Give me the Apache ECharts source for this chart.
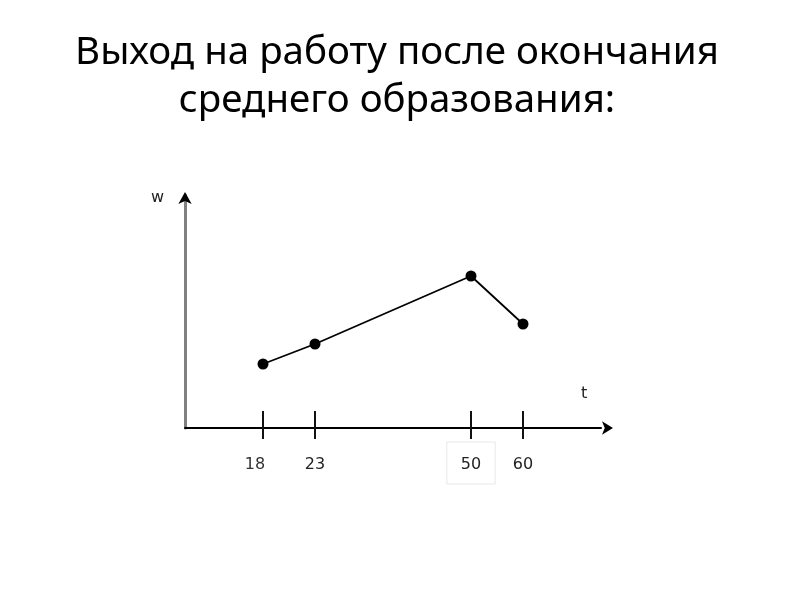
<!DOCTYPE html>
<html>
<head>
<meta charset="utf-8">
<script src="https://cdn.jsdelivr.net/npm/echarts@6/dist/echarts.min.js"></script>
<style>
  html, body { margin: 0; padding: 0; background: #ffffff; }
  #chart { width: 794px; height: 595px; }
</style>
</head>
<body>
<div id="chart"></div>
<script>
// Axis slots for t (schematic, unevenly spaced marks); empty strings are unlabeled slots
const tCategories = ['', '', '', '18', '', '23', '', '', '', '', '', '50', '', '60', '', '', ''];
// Points: t (age) and w (wage, schematic units)
const tValues = ['18', '23', '50', '60'];
const wValues = [64, 84, 152, 104];
const titleText = 'Выход на работу после окончания\nсреднего образования:';
const yAxisName = 'w';
const xAxisName = 't';

const chart = echarts.init(document.getElementById('chart'), null, { renderer: 'canvas' });

const labelFont = 'DejaVu Sans';
const showLabeled = function (index, value) { return value !== ''; };

const option = {
  backgroundColor: '#ffffff',
  animation: false,
  title: {
    text: titleText,
    left: 'center',
    top: 24,
    textStyle: {
      fontFamily: 'Noto Sans',
      fontSize: 38.5,
      fontWeight: 'normal',
      color: '#000000',
      lineHeight: 48
    }
  },
  grid: { left: 185, right: 193, top: 195, bottom: 167, containLabel: false },
  xAxis: [
    {
      type: 'category',
      position: 'bottom',
      data: tCategories,
      boundaryGap: false,
      axisLine: {
        show: true,
        symbol: ['none', 'arrow'],
        symbolSize: [10, 11],
        symbolOffset: [0, 12],
        lineStyle: { color: '#000000', width: 2 }
      },
      axisTick: {
        show: true,
        interval: showLabeled,
        inside: false,
        length: 11,
        lineStyle: { color: '#111111', width: 2 }
      },
      axisLabel: {
        show: true,
        interval: showLabeled,
        margin: 14,
        fontFamily: labelFont,
        fontSize: 16,
        color: '#222222',
        formatter: function (v) {
          if (v === '18') return '{l|' + v + '}';
          if (v === '50') return '{b|' + v + '}';
          return '{n|' + v + '}';
        },
        rich: {
          n: { fontFamily: labelFont, fontSize: 16, color: '#222222', padding: [15, 0, 0, 0] },
          l: { fontFamily: labelFont, fontSize: 16, color: '#333333', padding: [15, 16, 0, 0] },
          b: {
            fontFamily: labelFont, fontSize: 16, color: '#222222',
            padding: [15, 14, 11, 14],
            borderColor: '#e8e8e8', borderWidth: 1
          }
        }
      },
      splitLine: { show: false }
    },
    {
      type: 'category',
      position: 'bottom',
      offset: 0,
      data: tCategories,
      boundaryGap: false,
      axisLine: { show: false },
      axisTick: {
        show: true,
        interval: showLabeled,
        inside: true,
        length: 17,
        lineStyle: { color: '#111111', width: 2 }
      },
      axisLabel: { show: false },
      splitLine: { show: false }
    }
  ],
  yAxis: [
    {
      type: 'value',
      min: 0,
      max: 233,
      axisLine: {
        show: true,
        symbol: 'none',
        lineStyle: { color: '#808080', width: 3 }
      },
      axisTick: { show: false },
      axisLabel: { show: false },
      splitLine: { show: false }
    },
    {
      type: 'value',
      position: 'left',
      offset: 0,
      min: 0,
      max: 233,
      axisLine: {
        show: true,
        symbol: ['none', 'arrow'],
        symbolSize: [10, 12],
        symbolOffset: [0, 3],
        lineStyle: { color: '#000000', width: 0 }
      },
      axisTick: { show: false },
      axisLabel: { show: false },
      splitLine: { show: false }
    }
  ],
  graphic: [
    {
      type: 'text',
      left: 151,
      top: 190,
      style: { text: yAxisName, font: '16px "DejaVu Sans"', fill: '#222222' }
    },
    {
      type: 'text',
      left: 581,
      top: 386,
      style: { text: xAxisName, font: '16px "DejaVu Sans"', fill: '#222222' }
    }
  ],
  series: [
    {
      type: 'line',
      xAxisIndex: 0,
      yAxisIndex: 0,
      data: tValues.map(function (t, i) { return [t, wValues[i]]; }),
      symbol: 'circle',
      symbolSize: 11,
      itemStyle: { color: '#000000' },
      lineStyle: { color: '#000000', width: 1.8 },
      z: 5
    }
  ]
};

chart.setOption(option);
</script>
</body>
</html>
